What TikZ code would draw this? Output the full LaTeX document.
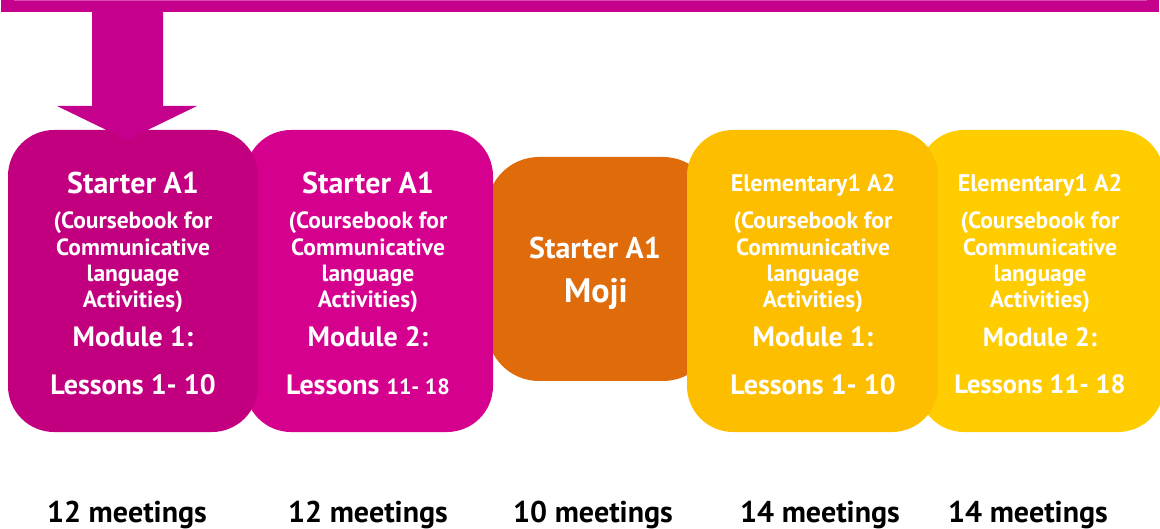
\documentclass[tikz,border=0pt]{standalone}
\usepackage{fontspec}
\setmainfont{PT Sans}
\definecolor{barmag}{HTML}{C4008C}
\definecolor{boxa}{HTML}{C2007F}
\definecolor{boxb}{HTML}{D6008F}
\definecolor{boxc}{HTML}{E06B0B}
\definecolor{boxd}{HTML}{FDBE00}
\definecolor{boxe}{HTML}{FFCC00}
\tikzset{
  bx/.style={rounded corners=46pt},
  big/.style={text=white,anchor=base,font=\bfseries\fontsize{30}{30}\selectfont},
  modl/.style={text=white,anchor=base,font=\bfseries\fontsize{28}{28}\selectfont},
  mid/.style={text=white,anchor=base,font=\bfseries\fontsize{26.5}{26.5}\selectfont},
  sml/.style={text=white,anchor=base,font=\bfseries\fontsize{23.5}{23.5}\selectfont},
  elem/.style={text=white,anchor=base,font=\bfseries\fontsize{24}{24}\selectfont},
  meet/.style={text=black,anchor=base,font=\bfseries\fontsize{30}{30}\selectfont},
}
\begin{document}
\begin{tikzpicture}[x=1pt,y=-1pt,inner sep=0pt,outer sep=0pt]
\useasboundingbox (0,0) rectangle (1160,529);
% top bar
\fill[barmag] (1,0) rectangle (1159,12);
\draw[barmag!70!white,line width=1pt] (14,0.5) -- (1147,0.5);
% boxes (back to front)
\fill[boxc,rounded corners=52pt] (487,157) rectangle (715,381);
\fill[boxe,bx] (918,130) rectangle (1164,432);
\fill[boxd,bx] (687,130) rectangle (938,432);
\fill[boxb,bx] (245,130) rectangle (493,432);
\fill[boxa,bx] (8,130) rectangle (258,432);
% arrow
\fill[barmag] (92,11) -- (163,11) -- (163,106) -- (197,106) -- (127,140) -- (57,106) -- (92,106) -- cycle;
% box 1
\node[big] (a1) at (133,194) {Starter A1};
\node[sml] (a2) at (133,229) {(Coursebook for};
\node[sml] (a3) at (133,256) {Communicative};
\node[sml] (a4) at (133,282) {language};
\node[sml] (a5) at (133,308) {Activities)};
\node[modl] (a6) at (133,347) {Module 1:};
\node[modl] (a7) at (133,395) {Lessons 1- 10};
% box 2
\node[big] (b1) at (368,194) {Starter A1};
\node[sml] (b2) at (368,229) {(Coursebook for};
\node[sml] (b3) at (368,256) {Communicative};
\node[sml] (b4) at (368,282) {language};
\node[sml] (b5) at (368,308) {Activities)};
\node[modl] (b6) at (368,347) {Module 2:};
\node[modl] (b7) at (368,395) {Lessons {\fontsize{22}{22}\selectfont 11- 18}};
% box 3
\node[big] (c1) at (595,259) {Starter A1};
\node[big,font=\bfseries\fontsize{34}{34}\selectfont] (c2) at (596,303) {Moji};
% box 4
\node[elem] (d1) at (813,192) {Elementary1 A2};
\node[sml] (d2) at (813,229) {(Coursebook for};
\node[sml] (d3) at (813,256) {Communicative};
\node[sml] (d4) at (813,282) {language};
\node[sml] (d5) at (813,308) {Activities)};
\node[modl] (d6) at (813,347) {Module 1:};
\node[modl] (d7) at (813,395) {Lessons 1- 10};
% box 5
\node[elem] (e1) at (1040,192) {Elementary1 A2};
\node[sml] (e2) at (1040,229) {(Coursebook for};
\node[sml] (e3) at (1040,256) {Communicative};
\node[sml] (e4) at (1040,282) {language};
\node[sml] (e5) at (1040,308) {Activities)};
\node[mid] (e6) at (1040,347) {Module 2:};
\node[mid] (e7) at (1040,394) {Lessons 11- 18};
% meetings
\node[meet] (m1) at (127,522) {12 meetings};
\node[meet] (m2) at (368,522) {12 meetings};
\node[meet] (m3) at (593,522) {10 meetings};
\node[meet] (m4) at (820,522) {14 meetings};
\node[meet] (m5) at (1028,522) {14 meetings};
\end{tikzpicture}
\end{document}
